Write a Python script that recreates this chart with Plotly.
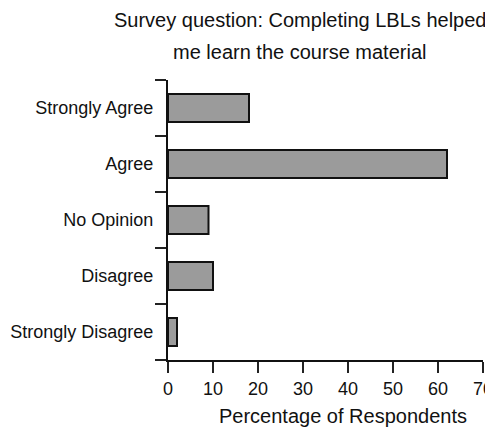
import plotly.graph_objects as go

categories = ["Strongly Agree", "Agree", "No Opinion", "Disagree", "Strongly Disagree"]
percentages = [18, 62, 9, 10, 2]
x_ticks = [0, 10, 20, 30, 40, 50, 60, 70]

title_line1 = "Survey question: Completing LBLs helped"
title_line2 = "me learn the course material"
x_title = "Percentage of Respondents"

FONT = "Liberation Sans, Arial, Helvetica, sans-serif"

fig = go.Figure()
fig.add_trace(go.Bar(
    y=categories,
    x=percentages,
    orientation="h",
    width=0.5,
    marker=dict(color="#9b9b9b", line=dict(color="#111111", width=2)),
))

fig.update_layout(
    width=493,
    height=421,
    margin=dict(l=160, r=18, t=72, b=69, autoexpand=False),
    paper_bgcolor="white",
    plot_bgcolor="white",
    showlegend=False,
    font=dict(family=FONT, size=18, color="#111111"),
    xaxis=dict(
        range=[0, 70],
        tickvals=x_ticks,
        ticks="outside",
        ticklen=11,
        tickwidth=1.5,
        tickcolor="#222222",
        showline=True,
        linecolor="#111111",
        linewidth=2,
        showgrid=False,
        zeroline=False,
        tickfont=dict(size=18),
        ticklabeloverflow="allow",
        automargin=False,
    ),
    yaxis=dict(
        categoryorder="array",
        categoryarray=categories[::-1],
        tickson="boundaries",
        ticks="outside",
        ticklen=11,
        tickwidth=1.5,
        tickcolor="#222222",
        showline=True,
        linecolor="#111111",
        linewidth=2,
        showgrid=False,
        zeroline=False,
        tickfont=dict(size=18),
        ticklabelstandoff=9,
        automargin=False,
        range=[-0.5, 4.5],
    ),
    annotations=[
        dict(text=title_line1, xref="paper", yref="paper", x=0.419, y=1.214,
             showarrow=False, xanchor="center", yanchor="middle", font=dict(size=20)),
        dict(text=title_line2, xref="paper", yref="paper", x=0.419, y=1.1,
             showarrow=False, xanchor="center", yanchor="middle", font=dict(size=20)),
        dict(text=x_title, xref="paper", yref="paper", x=0.556, y=-0.2,
             showarrow=False, xanchor="center", yanchor="middle", font=dict(size=20)),
    ],
)

fig.write_html("out.html")
